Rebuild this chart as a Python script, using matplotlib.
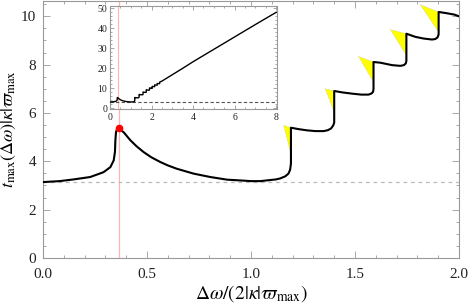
import matplotlib
matplotlib.use('Agg')
import matplotlib.pyplot as plt
from matplotlib.ticker import MultipleLocator
from matplotlib.patches import Polygon

plt.rcParams['font.family'] = ['Liberation Serif', 'DejaVu Serif']
plt.rcParams['mathtext.fontset'] = 'stix'

# main curve t_max(dw)
main_x = [0.000, 0.080, 0.147, 0.227, 0.291, 0.324, 0.340, 0.346, 0.348, 0.351, 0.356, 0.364,
          0.390, 0.420, 0.450, 0.484, 0.520, 0.564, 0.600, 0.644, 0.724, 0.804, 0.885, 0.964,
          1.000, 1.045, 1.077, 1.120, 1.140, 1.165, 1.180, 1.188, 1.192, 1.192,
          1.230, 1.270, 1.310, 1.350, 1.370, 1.385, 1.395, 1.400, 1.400,
          1.440, 1.486, 1.530, 1.565, 1.580, 1.587, 1.589, 1.589,
          1.622, 1.678, 1.718, 1.735, 1.744, 1.747, 1.747,
          1.790, 1.830, 1.870, 1.886, 1.897, 1.902, 1.902,
          1.940, 1.978, 2.000]
main_y = [3.14, 3.18, 3.25, 3.35, 3.55, 3.76, 4.04, 4.40, 4.87, 5.21, 5.33, 5.38,
          5.18, 4.87, 4.62, 4.38, 4.17, 3.97, 3.83, 3.69, 3.49, 3.35, 3.24, 3.20,
          3.18, 3.18, 3.21, 3.25, 3.29, 3.38, 3.49, 3.65, 3.90, 5.39,
          5.33, 5.28, 5.25, 5.25, 5.29, 5.36, 5.48, 5.60, 6.91,
          6.85, 6.80, 6.76, 6.76, 6.81, 6.88, 7.00, 8.11,
          8.08, 7.98, 7.95, 7.98, 8.05, 8.15, 9.28,
          9.15, 9.08, 9.04, 9.06, 9.13, 9.25, 10.18,
          10.13, 10.07, 10.00]

# continuation shown only in the inset
ext_x = [2.03, 2.03, 2.15, 2.15, 2.27, 2.27, 2.39, 2.39, 2.50, 3.0, 3.5, 4.0, 5.0, 6.0, 7.0, 8.0]
ext_y = [9.95, 10.95, 10.80, 11.70, 11.55, 12.40, 12.30, 13.10, 13.60, 16.8, 20.0, 23.3, 29.5, 35.7, 41.9, 48.0]

# yellow triangles at each jump: left corner, jump x, top, bottom
tri_left_x = [1.157, 1.357, 1.517, 1.670, 1.814]
tri_left_y = [5.49, 7.00, 8.34, 9.45, 10.48]
tri_jump_x = [1.192, 1.400, 1.589, 1.747, 1.902]
tri_top_y = [5.39, 6.91, 8.11, 9.28, 10.18]
tri_bot_y = [4.31, 6.04, 7.28, 8.39, 9.35]

peak_x = 0.364
peak_y = 5.38
pi_level = 3.14159

frame_col = '#999999'
text_col = '#222222'

fig = plt.figure(figsize=(4.69, 3.06), dpi=100)
ax = fig.add_axes([0.0917, 0.157, 0.887, 0.841])


def style_frame(a, fs, major_len, minor_len):
    for s in a.spines.values():
        s.set_color(frame_col)
        s.set_linewidth(0.8)
    a.tick_params(which='both', direction='in', top=True, right=True,
                  color=frame_col, labelcolor=text_col, labelsize=fs, width=0.6)
    a.tick_params(which='major', length=major_len)
    a.tick_params(which='minor', length=minor_len)


ax.axvline(peak_x, color='#ffb3b3', lw=0.9, zorder=1)
ax.axhline(pi_level, color='#bbbbbb', lw=0.9, ls=(0, (3, 3)), zorder=1)

for i in range(len(tri_left_x)):
    pts = [(tri_left_x[i], tri_left_y[i]), (tri_jump_x[i], tri_top_y[i]), (tri_jump_x[i], tri_bot_y[i])]
    ax.add_patch(Polygon(pts, closed=True, facecolor='#ffff00', edgecolor='#aaaa99',
                         lw=0.4, ls=':', zorder=2))

ax.plot(main_x, main_y, color='black', lw=1.5, zorder=3)
ax.plot([peak_x], [peak_y], 'o', color='red', ms=4.5, zorder=4)

ax.set_xlim(0, 2.0)
ax.set_ylim(0, 10.65)
ax.xaxis.set_major_locator(MultipleLocator(0.5))
ax.xaxis.set_minor_locator(MultipleLocator(0.1))
ax.yaxis.set_major_locator(MultipleLocator(2))
ax.yaxis.set_minor_locator(MultipleLocator(0.5))
ax.xaxis.set_major_formatter(matplotlib.ticker.FormatStrFormatter('%.1f'))
style_frame(ax, 11, 5, 2.5)
ax.tick_params(axis='x', pad=7)
ax.tick_params(axis='y', pad=5)
ax.set_xlabel(r'$\Delta\omega/(2|\kappa|\varpi_{\max})$', fontsize=14, labelpad=2)
ax.set_ylabel(r'$t_{\max}(\Delta\omega)|\kappa|\varpi_{\max}$', fontsize=13, labelpad=2)

# inset
ins = fig.add_axes([0.2345, 0.6438, 0.3567, 0.3366])
ins.set_facecolor('white')
ins.axvline(peak_x, color='#ffb3b3', lw=0.8, zorder=1)
ins.axhline(pi_level, color='#555555', lw=0.8, ls=(0, (3, 2)), zorder=1)
ins.plot(main_x + ext_x, main_y + ext_y, color='black', lw=1.0, zorder=3)
ins.set_xlim(0, 8.05)
ins.set_ylim(-0.35, 51.15)
ins.xaxis.set_major_locator(MultipleLocator(2))
ins.xaxis.set_minor_locator(MultipleLocator(0.5))
ins.yaxis.set_major_locator(MultipleLocator(10))
ins.yaxis.set_minor_locator(MultipleLocator(2))
style_frame(ins, 7, 3, 1.5)
ins.tick_params(axis='x', pad=3)
ins.tick_params(axis='y', pad=2)

fig.savefig('out.png', dpi=100)
